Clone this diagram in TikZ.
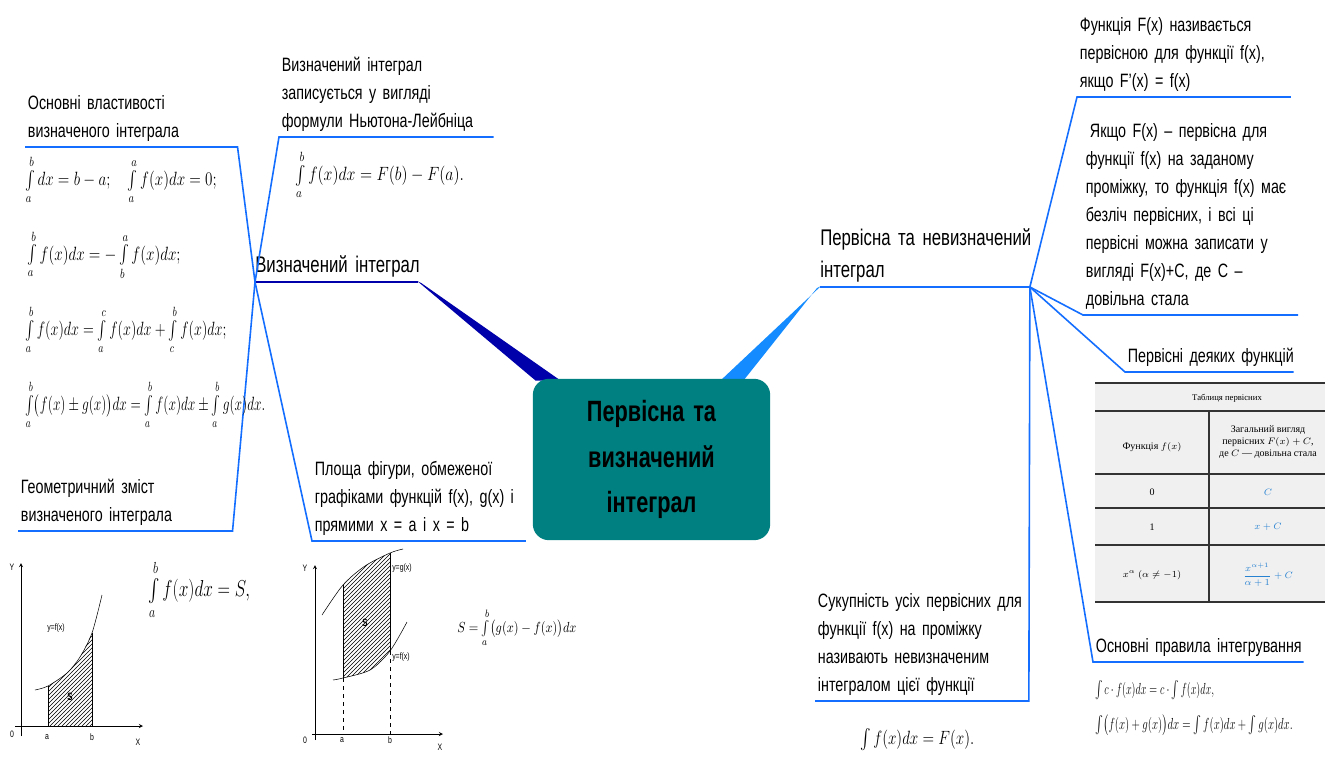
\documentclass[tikz,border=0pt]{standalone}
\usepackage{amsmath,amssymb}
\usepackage{graphicx}
\usepackage{fontspec}
\setmainfont{Liberation Sans}[FakeStretch=0.74,WordSpace=0.6]
\newfontfamily\tabfont{Liberation Serif}
\usetikzlibrary{arrows,calc,patterns,backgrounds}

\definecolor{hubblue}{RGB}{0,0,170}
\definecolor{linkblue}{RGB}{20,110,255}
\definecolor{wedgeblue}{RGB}{20,140,255}
\definecolor{coreteal}{RGB}{0,128,128}
\definecolor{tabblue}{RGB}{40,130,210}

% narrow formulas
\newcommand{\squeeze}[2]{\scalebox{#1}[1]{#2}}

\begin{document}
\begin{tikzpicture}[x=0.75pt,y=-0.75pt,
  core/.style={rectangle,rounded corners=12pt,fill=coreteal,minimum width=178pt,minimum height=121pt,align=center,font=\fontsize{22}{34}\selectfont\bfseries},
  topic/.style={anchor=south west,inner xsep=0pt,inner ysep=0pt,align=left,font=\fontsize{17}{24}\selectfont,execute at end node=\strut},
  note/.style={anchor=south west,inner xsep=2pt,inner ysep=1pt,align=left,font=\fontsize{14.5}{21}\selectfont,execute at end node=\strut},
  frm/.style={anchor=west,inner sep=0pt,font=\fontsize{14}{16}\selectfont},
  link/.style={linkblue,line width=1.2pt},
  axis/.style={->,>=stealth,thin},
  glabel/.style={font=\fontsize{7}{8}\selectfont,inner sep=0pt},
  tabtxt/.style={font=\tabfont\fontsize{7.5}{9}\selectfont,inner sep=0pt,align=center},
  rule/.style={line width=0.8pt,black!80},
]
\useasboundingbox (0,0) rectangle (1335,764);

% Central topic
\node[core] (core) at (651.5,459.5) {Первісна\hspace{0.3em}та\\визначений\\інтеграл};

% Main branches
\node[topic,text width=122pt] (defint) at (255,282) {\mbox{Визначений інтеграл}};
\node[topic,text width=157pt] (indef) at (820,287) {\mbox{Первісна та невизначений}\\інтеграл};

\begin{scope}[on background layer]
\fill[hubblue] ($(defint.south east)+(-1,-1)$) -- ($(core.north west)+(3,2)$) -- ($(core.north west)+(28,2)$) -- ($(defint.south east)+(3,1)$) -- cycle;
\fill[wedgeblue] ($(indef.south west)+(1,-1)$) -- ($(core.north east)+(-50,2)$) -- ($(core.north east)+(-27,2)$) -- ($(indef.south west)+(-3,1)$) -- cycle;
\end{scope}
\draw[hubblue,line width=1.8pt] (defint.south east) -- (defint.south west);
\draw[link,line width=1.8pt] (indef.south west) -- (indef.south east);

% Left side notes
\node[note,text width=155pt] (props) at (25,147) {Основні властивості\\визначеного інтеграла};
\node[note,text width=156.5pt] (newton) at (279,137) {Визначений інтеграл\\записується у вигляді\\формули Ньютона-Лейбніца};
\node[note,text width=156.5pt] (geom) at (18,531) {Геометричний зміст\\визначеного інтеграла};
\node[note,text width=156pt] (area) at (312,541) {Площа фігури, обмеженої\\графіками функцій f(x), g(x) і\\прямими x = a і x = b};

\draw[link] (defint.south west) -- (props.south east) -- (props.south west);
\draw[link] (defint.south west) -- (newton.south west) -- (newton.south east);
\draw[link] (defint.south west) -- (geom.south east) -- (geom.south west);
\draw[link] (defint.south west) -- (area.south west) -- (area.south east);

% Right side notes
\node[note,text width=156pt] (antider) at (1077,97) {Функція F(x) називається\\первісною для функції f(x),\\якщо F'(x) = f(x)};
\node[note,text width=157pt] (family) at (1083,315) {\hspace{3pt}Якщо F(x) – первісна для\\функції f(x) на заданому\\проміжку, то функція f(x) має\\безліч первісних, і всі ці\\первісні можна записати у\\вигляді F(x)+C, де С –\\довільна стала};
\node[note,text width=122pt] (tabtitle) at (1125,372) {\mbox{Первісні деяких функцій}};
\node[note,text width=153.5pt] (rules) at (1093,662) {\mbox{Основні правила інтегрування}};
\node[note,text width=156pt] (indefdef) at (815,701) {Сукупність усіх первісних для\\функції f(x) на проміжку\\називають невизначеним\\інтегралом цієї функції};

\draw[link] (indef.south east) -- (antider.south west) -- (antider.south east);
\draw[link] (indef.south east) -- (family.south west) -- (family.south east);
\draw[link] (indef.south east) -- (tabtitle.south west) -- (tabtitle.south east);
\draw[link] (indef.south east) -- (rules.south west) -- (rules.south east);
\draw[link] (indef.south east) -- (indefdef.south east) -- (indefdef.south west);

% Formulas
\node[frm] (f1) at (25,180) {\squeeze{0.79}{$\int\limits_a^b dx = b-a;\quad \int\limits_a^a f(x)dx = 0;$}};
\node[frm] (f2) at (27,255) {\squeeze{0.79}{$\int\limits_a^b f(x)dx = -\int\limits_b^a f(x)dx;$}};
\node[frm] (f3) at (25,330) {\squeeze{0.74}{$\int\limits_a^b f(x)dx = \int\limits_a^c f(x)dx + \int\limits_c^b f(x)dx;$}};
\node[frm] (f4) at (25,405) {\squeeze{0.7}{$\int\limits_a^b \bigl(f(x)\pm g(x)\bigr)dx = \int\limits_a^b f(x)dx \pm \int\limits_a^b g(x)dx.$}};
\node[frm] (fnl) at (295,175) {\squeeze{0.83}{$\int\limits_a^b f(x)dx = F(b)-F(a).$}};
\node[frm,font=\fontsize{17}{19}\selectfont] (fs) at (148,590) {\squeeze{0.75}{$\int\limits_a^b f(x)dx = S,$}};
\node[frm,font=\fontsize{11}{13}\selectfont] (farea) at (457,628) {\squeeze{0.84}{$S=\int\limits_a^b \bigl(g(x)-f(x)\bigr)dx$}};
\node[frm,font=\fontsize{13}{15}\selectfont] (fr1) at (1095,690) {\squeeze{0.64}{$\int c\cdot f(x)dx = c\cdot\int f(x)dx,$}};
\node[frm,font=\fontsize{13}{15}\selectfont] (fr2) at (1095,725) {\squeeze{0.68}{$\int\bigl(f(x)+g(x)\bigr)dx = \int f(x)dx + \int g(x)dx.$}};
\node[frm,font=\fontsize{15}{17}\selectfont] (find) at (860,740) {\squeeze{0.79}{$\int f(x)dx = F(x).$}};

% Graph of one function
\fill[pattern=north east lines] (48,726) -- plot[smooth] coordinates {(48,686) (67,673) (80,657) (92,633)} -- (92,726) -- cycle;
\draw (48,726) -- (48,686);
\draw (92,726) -- (92,633);
\draw plot[smooth] coordinates {(35,690) (48,686) (67,673) (80,657) (92,633) (102,595)};
\draw[axis] (15,726) -- (143,726);
\draw[axis] (21,736) -- (21,563);
\node[glabel] (g1y) at (12,567) {Y};
\node[glabel] (g1o) at (12,734) {0};
\node[glabel] (g1a) at (47,737) {a};
\node[glabel] (g1b) at (92,737) {b};
\node[glabel] (g1x) at (138,742) {X};
\node[glabel] (g1f) at (56,628) {y=f(x)};
\node[glabel,font=\fontsize{8}{9}\selectfont\bfseries] (g1s) at (70,697) {S};

% Graph of two functions
\fill[pattern=north east lines] (343,585) -- plot[smooth] coordinates {(343,585) (365,566) (390,553)} -- (390,651) -- plot[smooth] coordinates {(390,651) (370,670) (343,678)} -- cycle;
\draw plot[smooth] coordinates {(322,615) (343,585) (365,566) (390,553) (403,549)};
\draw plot[smooth] coordinates {(333,680) (343,678) (370,670) (390,651) (407,622)};
\draw (343,585) -- (343,678);
\draw (390,553) -- (390,651);
\draw[dashed] (343,678) -- (343,734);
\draw[dashed] (390,651) -- (390,734);
\draw[axis] (312,734) -- (443,734);
\draw[axis] (315,740) -- (315,565);
\node[glabel] (g2y) at (305,568) {Y};
\node[glabel] (g2o) at (305,740) {0};
\node[glabel] (g2a) at (342,740) {a};
\node[glabel] (g2b) at (390,740) {b};
\node[glabel] (g2x) at (440,747) {X};
\node[glabel,anchor=west] (g2g) at (392,568) {y=g(x)};
\node[glabel,anchor=west] (g2f) at (392,657) {y=f(x)};
\node[glabel,font=\fontsize{8}{9}\selectfont\bfseries] (g2s) at (365,623) {S};

% Table of antiderivatives
\fill[black!6] (1095,383) rectangle (1325,602);
\draw[rule] (1095,383) -- (1325,383);
\draw[rule] (1095,411) -- (1325,411);
\draw[rule] (1095,474) -- (1325,474);
\draw[rule] (1095,508) -- (1325,508);
\draw[rule] (1095,545) -- (1325,545);
\draw[rule] (1095,602) -- (1325,602);
\draw[rule] (1209,411) -- (1209,602);
\node[tabtxt,font=\tabfont\fontsize{6.5}{8}\selectfont] (th) at (1227,398) {Таблиця первісних};
\node[tabtxt] (tf) at (1152,447) {Функція $f(x)$};
\node[tabtxt] (tF) at (1268,442) {Загальний вигляд\\первісних $F(x)+C$,\\де $C$ — довільна стала};
\node[tabtxt] (r1a) at (1152,492) {0};
\node[tabtxt,text=tabblue] (r1b) at (1268,492) {$C$};
\node[tabtxt] (r2a) at (1152,527) {1};
\node[tabtxt,text=tabblue] (r2b) at (1268,527) {$x+C$};
\node[tabtxt] (r3a) at (1152,575) {$x^{\alpha}$ $(\alpha\neq -1)$};
\node[tabtxt,text=tabblue] (r3b) at (1268,575) {$\dfrac{x^{\alpha+1}}{\alpha+1}+C$};

\end{tikzpicture}
\end{document}
